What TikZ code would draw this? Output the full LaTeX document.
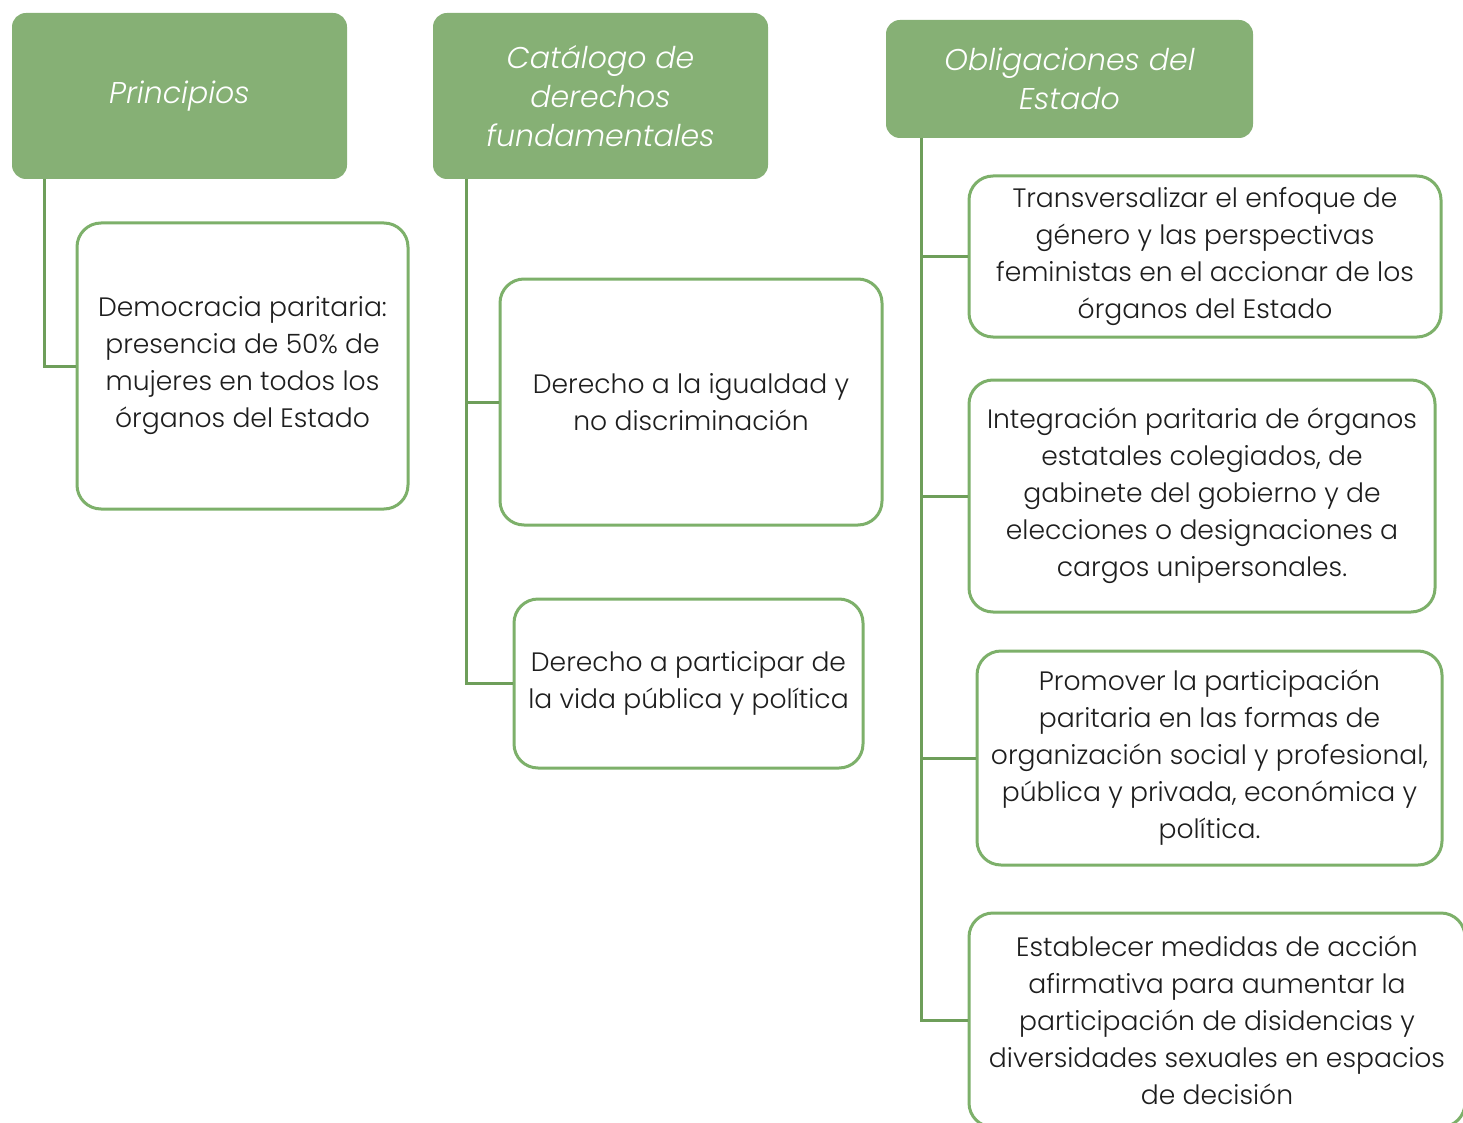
\documentclass[tikz,border=0pt]{standalone}
\usepackage{fontspec}
\setmainfont{Poppins}[UprightFont={* Light},ItalicFont={* Light Italic}]
\definecolor{hdrfill}{HTML}{86B075}
\definecolor{boxline}{HTML}{7DB06A}
\definecolor{conline}{HTML}{6E9E5A}
\definecolor{txt}{HTML}{1E1E1E}
\tikzset{
  header/.style={rectangle, rounded corners=14pt, fill=hdrfill, draw=none,
    text=white, align=center, font=\fontsize{30}{39}\selectfont\itshape, inner sep=0pt},
  itembox/.style={rectangle, rounded corners=24pt, draw=boxline, line width=3pt, fill=white,
    text=txt, align=center, font=\fontsize{26.6}{37}\selectfont, inner sep=0pt},
  conn/.style={draw=conline, line width=3pt}
}
\begin{document}
\begin{tikzpicture}[x=1pt,y=-1pt]
\useasboundingbox (0,0) rectangle (1463,1123);
% headers
\node[header, minimum width=335pt, minimum height=166pt] (h1) at (179.5,96) {Principios};
\node[header, minimum width=335pt, minimum height=166pt] (h2) at (600.5,96) {Catálogo de\\derechos\\fundamentales};
\node[header, minimum width=367pt, minimum height=118pt] (h3) at (1069.5,79) {Obligaciones del\\Estado};
% coordinates for trunks
\coordinate (t1) at (44,179);
\coordinate (t2) at (466,179);
\coordinate (t3) at (921,138);
% boxes
\node[itembox, minimum width=331pt, minimum height=286pt] (b1) at (242.5,366) {Democracia paritaria:\\presencia de 50\% de\\mujeres en todos los\\órganos del Estado};
\node[itembox, minimum width=382pt, minimum height=246pt] (b2) at (691,402) {Derecho a la igualdad y\\no discriminación};
\node[itembox, minimum width=349pt, minimum height=169pt] (b3) at (688.5,683.5) {Derecho a participar de\\la vida pública y política};
\node[itembox, minimum width=472pt, minimum height=161pt] (c1) at (1205,256.5) {Transversalizar el enfoque de\\género y las perspectivas\\feministas en el accionar de los\\órganos del Estado};
\node[itembox, minimum width=466pt, minimum height=232pt] (c2) at (1202,496) {Integración paritaria de órganos\\estatales colegiados, de\\gabinete del gobierno y de\\elecciones o designaciones a\\cargos unipersonales.};
\node[itembox, minimum width=465pt, minimum height=214pt] (c3) at (1209.5,758) {Promover la participación\\paritaria en las formas de\\organización social y profesional,\\pública y privada, económica y\\política.};
\node[itembox, minimum width=496pt, minimum height=214pt] (c4) at (1217,1020) {Establecer medidas de acción\\afirmativa para aumentar la\\participación de disidencias y\\diversidades sexuales en espacios\\de decisión};
% connectors
\draw[conn] (t1) |- (b1.west);
\draw[conn] (t2) |- (b3.west);
\draw[conn] (t2 |- b2.west) -- (b2.west);
\draw[conn] (t3) |- (c4.west);
\draw[conn] (t3 |- c1.west) -- (c1.west);
\draw[conn] (t3 |- c2.west) -- (c2.west);
\draw[conn] (t3 |- c3.west) -- (c3.west);
\end{tikzpicture}
\end{document}
